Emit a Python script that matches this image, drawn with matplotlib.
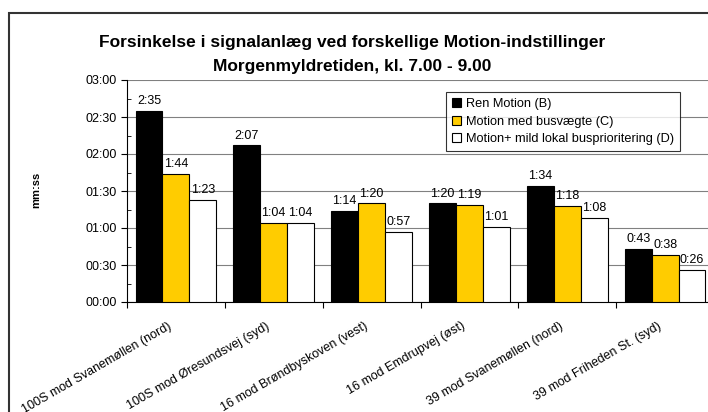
import matplotlib
matplotlib.use("Agg")
import matplotlib.pyplot as plt
import numpy as np
from matplotlib.patches import Rectangle
from matplotlib.ticker import FuncFormatter, MultipleLocator

plt.rcParams['font.family'] = ['Liberation Sans', 'DejaVu Sans']

# data (seconds)
categories = ["100S mod Svanemøllen (nord)", "100S mod Øresundsvej (syd)",
              "16 mod Brøndbyskoven (vest)", "16 mod Emdrupvej (øst)",
              "39 mod Svanemøllen (nord)", "39 mod Friheden St. (syd)"]
ren_motion = [155, 127, 74, 80, 94, 43]
busvaegte = [104, 64, 80, 79, 78, 38]
busprioritering = [83, 64, 57, 61, 68, 26]

series_names = ["Ren Motion (B)", "Motion med busvægte (C)",
                "Motion+ mild lokal busprioritering (D)"]
series_colors = ["#000000", "#FFCC00", "#FFFFFF"]


def mmss(v, pos=None):
    v = int(round(v))
    return "%02d:%02d" % (v // 60, v % 60)


def mss(v):
    v = int(round(v))
    return "%d:%02d" % (v // 60, v % 60)


fig = plt.figure(figsize=(7.08, 4.12), dpi=100)

# outer chart frame
fig.patches.append(Rectangle((9 / 708, -0.1), 1.2, 1.1 - 13 / 412,
                             transform=fig.transFigure, fill=False,
                             edgecolor="#333333", linewidth=1.5))

ax = fig.add_axes([127 / 708, 110 / 412, 587 / 708, 222 / 412])

x = np.arange(len(categories))
w = 0.275
for i, (vals, name, col) in enumerate(zip([ren_motion, busvaegte, busprioritering],
                                          series_names, series_colors)):
    bars = ax.bar(x + (i - 1) * w, vals, w, color=col, edgecolor="black",
                  linewidth=0.8, label=name, zorder=3)
    for b, v in zip(bars, vals):
        ax.text(b.get_x() + b.get_width() / 2, v + 3, mss(v), ha="center",
                va="bottom", fontsize=9, zorder=4)

ax.set_ylim(0, 180)
ax.set_xlim(-0.5, len(categories) - 0.5)
ax.yaxis.set_major_locator(MultipleLocator(30))
ax.yaxis.set_minor_locator(MultipleLocator(15))
ax.yaxis.set_major_formatter(FuncFormatter(mmss))
ax.grid(axis="y", color="#808080", linewidth=0.8, zorder=0)

# ticks between categories, labels rotated under each group
ax.set_xticks(np.arange(len(categories) + 1) - 0.5)
ax.set_xticklabels([])
for xi, cat in zip(x, categories):
    ax.annotate(cat, xy=(xi, 0), xycoords=("data", "axes fraction"),
                xytext=(-8, -18), textcoords="offset pixels", rotation=30,
                rotation_mode="anchor", ha="right", va="top", fontsize=9,
                annotation_clip=False)
ax.tick_params(axis="x", which="major", length=4, direction="out")
ax.tick_params(axis="y", which="major", length=4, direction="out", labelsize=9)
ax.tick_params(axis="y", which="minor", length=3, direction="in")

for s in ["top", "right"]:
    ax.spines[s].set_visible(False)
ax.spines["left"].set_linewidth(0.8)
ax.spines["bottom"].set_linewidth(0.8)

fig.text(36 / 708, 1 - 190 / 412, "mm:ss", rotation=90, ha="center",
         va="center", fontsize=8, fontweight="bold")

fig.text(352 / 708, 1 - 43 / 412,
         "Forsinkelse i signalanlæg ved forskellige Motion-indstillinger",
         ha="center", va="center", fontsize=12.5, fontweight="bold")
fig.text(352 / 708, 1 - 66 / 412, "Morgenmyldretiden, kl. 7.00 - 9.00",
         ha="center", va="center", fontsize=12.5, fontweight="bold")

leg = ax.legend(loc="upper right", bbox_to_anchor=(680 / 708, 1 - 92 / 412),
                bbox_transform=fig.transFigure, fontsize=9.2, frameon=True,
                fancybox=False, handlelength=0.7, handleheight=0.7,
                handletextpad=0.4, borderpad=0.45, labelspacing=0.45,
                borderaxespad=0)
leg.get_frame().set_edgecolor("black")
leg.get_frame().set_linewidth(0.8)
leg.set_zorder(5)

fig.savefig("out.png", dpi=100)
